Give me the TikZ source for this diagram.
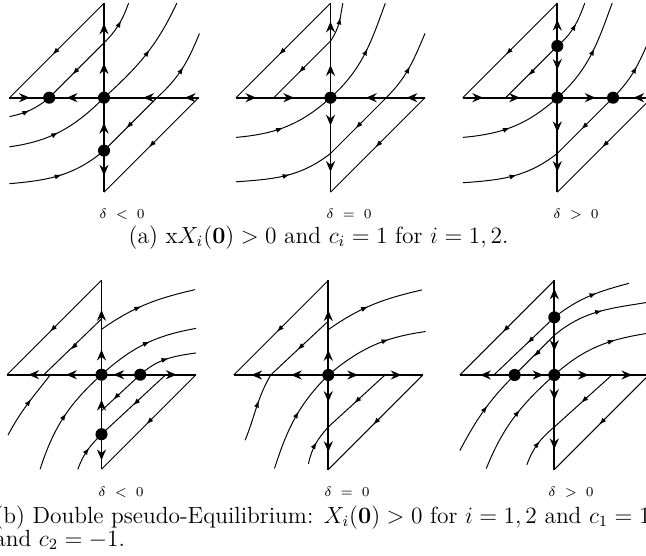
\documentclass[tikz,border=0pt]{standalone}
\usetikzlibrary{arrows.meta,decorations.markings,calc}
\tikzset{
  ax/.style={line width=1pt},
  tr/.style={line width=0.5pt},
  axtip/.tip={Stealth[length=5.5pt,width=4.6pt,inset=1.8pt]},
  smtip/.tip={Latex[length=3.6pt,width=2.6pt]},
  mk/.style={postaction={decorate,decoration={markings,mark=at position #1 with {\arrow{smtip}}}}},
  lab/.style={font=\scriptsize,anchor=base},
  captext/.style={font=\large,anchor=base west,inner sep=0pt},
  panel/.style={x=48.46pt,y=48.46pt}
}
\newcommand\AT[2]{\draw[ax,-axtip] ($(#1)+(#2:-0.07)$) -- ($(#1)+(#2:0.055)$);}
\newcommand\ST[2]{\draw[tr,-smtip] ($(#1)+(#2:-0.05)$) -- ($(#1)+(#2:0.035)$);}
\newcommand\Dot[1]{\fill (#1) circle[radius=3.1pt];}
\newcommand\Frame{%
  \draw[ax] (-1,0) -- (1,0); \draw[ax] (0,-1) -- (0,1);
  \draw[tr] (-1,0) -- (0,1); \draw[tr] (1,0) -- (0,-1);
  \ST{-0.52,0.48}{225} \ST{0.5,-0.5}{225}}
\begin{document}
\begin{tikzpicture}[x=0.5128pt,y=-0.5128pt]
\useasboundingbox (0,0) rectangle (646,556);
\clip (0,0) rectangle (646,556);
% ---------- panel 1
\begin{scope}[shift={(104,97.7)},panel]
\Frame
\draw[tr] (-0.58,0) -- (0,0.58); \ST{-0.31,0.27}{225}
\draw[tr,mk=0.6] (0,0.58) to[out=45,in=250] (0.26,1);
\draw[tr,mk=0.55] (0,0) to[out=42,in=245] (0.77,1);
\draw[tr,mk=0.52] (0.56,0) to[out=42,in=248] (1.01,0.68);
\draw[tr,mk=0.47] (-1,-0.2) to[out=12,in=220] (-0.58,0);
\draw[tr,mk=0.47] (-1,-0.52) to[out=8,in=225] (0,0);
\draw[tr,mk=0.52] (-1,-0.91) to[out=5,in=220] (0,-0.56);
\draw[tr] (0,-0.56) -- (0.56,0); \ST{0.26,-0.3}{225}
\AT{-0.84,0}{0} \AT{-0.34,0}{180} \AT{0.47,0}{180} \AT{0.91,0}{180}
\AT{0,0.73}{90} \AT{0,0.31}{90} \AT{0,-0.32}{90} \AT{0,-0.77}{-90}
\Dot{0,0} \Dot{-0.58,0} \Dot{0,-0.56}
\end{scope}
% ---------- panel 2
\begin{scope}[shift={(330.5,97.7)},panel]
\Frame
\draw[tr] (-0.6,0) -- (0,0.6); \ST{-0.31,0.29}{225}
\draw[tr,mk=0.64] (0,0.6) to[out=55,in=260] (0.13,1);
\draw[tr,mk=0.56] (0,0) to[out=42,in=250] (0.58,1);
\draw[tr,mk=0.52] (0.59,0) to[out=45,in=247] (1.0,0.68);
\draw[tr] (0.59,0) -- (0,-0.59); \ST{0.29,-0.3}{225}
\draw[tr,mk=0.46] (-1,-0.42) to[out=5,in=222] (0,0);
\draw[tr,mk=0.54] (-1,-0.89) to[out=4,in=218] (0,-0.59);
\AT{-0.84,0}{0} \AT{-0.44,0}{0} \AT{0.43,0}{180} \AT{0.86,0}{180}
\AT{0,0.75}{90} \AT{0,0.29}{90} \AT{0,-0.24}{-90} \AT{0,-0.73}{-90}
\Dot{0,0}
\end{scope}
% ---------- panel 3
\begin{scope}[shift={(557.3,97.7)},panel]
\Frame
\draw[tr] (-0.547,0) -- (0,0.547); \ST{-0.28,0.26}{225}
\draw[tr,mk=0.57] (0,0.547) to[out=40,in=250] (0.29,1);
\draw[tr,mk=0.56] (0,0) to[out=42,in=250] (0.58,1);
\draw[tr,mk=0.52] (0.59,0) to[out=45,in=247] (1.0,0.68);
\draw[tr] (0.59,0) -- (0,-0.59); \ST{0.28,-0.31}{225}
\draw[tr,mk=0.46] (-1,-0.42) to[out=5,in=222] (0,0);
\draw[tr,mk=0.54] (-1,-0.9) to[out=4,in=218] (0,-0.59);
\AT{-0.84,0}{0} \AT{-0.45,0}{0} \AT{0.35,0}{0} \AT{0.86,0}{180}
\AT{0,0.77}{90} \AT{0,0.35}{-90} \AT{0,-0.31}{-90} \AT{0,-0.73}{-90}
\Dot{0,0} \Dot{0,0.547} \Dot{0.59,0}
\end{scope}
% ---------- panel 4
\begin{scope}[shift={(101.5,374.7)},panel]
\Frame
\draw[tr] (-0.61,0) -- (0,0.59); \ST{-0.3,0.29}{224}
\draw[tr,mk=0.45] (0,0.48) to[out=35,in=193] (0.99,0.9);
\draw[tr,mk=0.55] (0,0) to[out=42,in=190] (1.0,0.49);
\draw[tr,mk=0.54] (0.41,0) to[out=42,in=188] (1.0,0.23);
\draw[tr,mk=0.58] (-0.99,-0.64) to[out=62,in=232] (-0.54,0);
\draw[tr,mk=0.54] (-0.65,-1.0) to[out=72,in=222] (0,0);
\draw[tr,mk=0.57] (-0.25,-1.0) to[out=70,in=225] (0,-0.63);
\draw[tr] (0,-0.63) -- (0.68,0); \ST{0.36,-0.3}{223}
\draw[tr] (0,-0.38) -- (0.41,0); \ST{0.15,-0.24}{225}
\AT{-0.72,0}{180} \AT{-0.32,0}{180} \AT{0.18,0}{180} \AT{0.74,0}{0}
\AT{0,0.63}{90} \AT{0,0.21}{90} \AT{0,-0.32}{90} \AT{0,-0.85}{-90}
\Dot{0,0} \Dot{0.41,0} \Dot{0,-0.63}
\end{scope}
% ---------- panel 5
\begin{scope}[shift={(328.3,375)},panel]
\Frame
\draw[tr] (-0.61,0) -- (0,0.57); \ST{-0.3,0.29}{223}
\draw[tr,mk=0.45] (0,0.48) to[out=35,in=193] (0.99,0.9);
\draw[tr,mk=0.65] (0,0) to[out=40,in=188] (1.03,0.46);
\draw[tr] (0.6,0) -- (0,-0.55); \ST{0.3,-0.275}{223}
\draw[tr,mk=0.55] (-0.21,-0.94) to[out=78,in=228] (0,-0.55);
\draw[tr,mk=0.57] (-0.57,-0.99) to[out=72,in=225] (0,0);
\draw[tr,mk=0.6] (-0.88,-0.69) to[out=68,in=240] (-0.61,0);
\AT{-0.76,0}{180} \AT{-0.34,0}{180} \AT{0.26,0}{0} \AT{0.72,0}{0}
\AT{0,0.63}{90} \AT{0,0.21}{90} \AT{0,-0.23}{-90} \AT{0,-0.76}{-90}
\Dot{0,0}
\end{scope}
% ---------- panel 6
\begin{scope}[shift={(554.3,375)},panel]
\Frame
\draw[tr] (-0.64,0) -- (0,0.61); \ST{-0.26,0.36}{224}
\draw[tr] (-0.42,0) -- (0,0.42); \ST{-0.19,0.22}{225}
\draw[tr,mk=0.59] (0,0.61) to[out=38,in=195] (0.79,0.97);
\draw[tr,mk=0.51] (0,0.42) to[out=40,in=190] (1.05,0.78);
\draw[tr,mk=0.64] (0,0) to[out=42,in=188] (1.05,0.45);
\draw[tr,mk=0.56] (-1,-0.8) to[out=62,in=225] (-0.42,0);
\draw[tr,mk=0.58] (-0.72,-0.99) to[out=68,in=222] (0,0);
\draw[tr,mk=0.57] (-0.29,-0.95) to[out=70,in=220] (0,-0.55);
\draw[tr] (0.61,0) -- (0,-0.55); \ST{0.31,-0.27}{223}
\AT{-0.73,0}{180} \AT{-0.17,0}{0} \AT{0.31,0}{0} \AT{0.77,0}{0}
\AT{0,0.86}{90} \AT{0,0.31}{-90} \AT{0,-0.21}{-90} \AT{0,-0.73}{-90}
\Dot{0,0} \Dot{0,0.61} \Dot{-0.42,0}
\end{scope}
% ---------- labels
\node[lab] (l1) at (122,218.3) {$\delta\;<\;0$};
\node[lab] (l2) at (349,218.3) {$\delta\;=\;0$};
\node[lab] (l3) at (576,218.3) {$\delta\;>\;0$};
\node[captext] (ca) at (128.3,243.3) {(a) x$X_i(\mathbf{0}) > 0$ and $c_i = 1$ for $i = 1, 2$.};
\node[lab] (l4) at (121,496) {$\delta\;<\;0$};
\node[lab] (l5) at (347,496) {$\delta\;=\;0$};
\node[lab] (l6) at (571,496) {$\delta\;>\;0$};
\node[captext] (cb1) at (-6,523.3) {(b) Double pseudo-Equilibrium: $X_i(\mathbf{0}) > 0$ for $i = 1, 2$ and $c_1 = 1$};
\node[captext] (cb2) at (-6,546) {and $c_2 = -1$.};
\end{tikzpicture}
\end{document}
